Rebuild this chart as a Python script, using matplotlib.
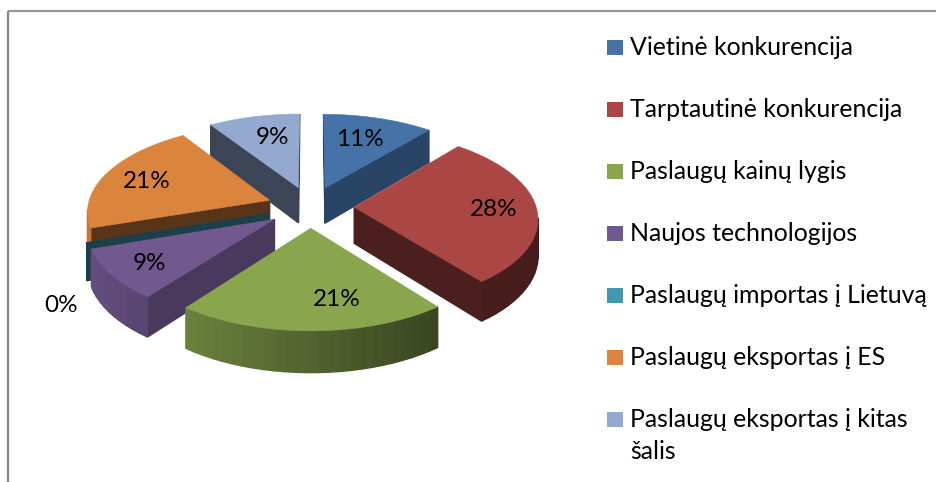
import matplotlib
matplotlib.use("Agg")
import matplotlib.pyplot as plt
import numpy as np

plt.rcParams["font.family"] = ["Lato", "DejaVu Sans"]

names = ["Vietinė konkurencija", "Tarptautinė konkurencija", "Paslaugų kainų lygis",
         "Naujos technologijos", "Paslaugų importas į Lietuvą", "Paslaugų eksportas į ES",
         "Paslaugų eksportas į kitas\nšalis"]
values = [11.1, 28.4, 21.0, 9.4, 0.1, 21.0, 9.2]

colors = ["#4572A7", "#AA4643", "#89A54E", "#71588F", "#4198AF", "#DB843D", "#93A9CF"]
cut_shade = [0.6, 0.44, 0.5, 0.65, 0.42, 0.4, 0.41]

# where the percent labels sit (pixels)
label_xy = [(360, 140), (494, 209), (337, 300), (150, 263), (61, 306), (147, 182), (273, 138)]
legend_y = [47, 109, 171, 233, 295, 357, 419]

# pie "camera"
cx, cy = 310.5, 207
rx, ry = 182, 86
persp = 0.112
explode = 0.24
depth = 36


def project(u, v, down=False):
    s = 1 / (1 + persp * v)
    x = cx + rx * u * s
    y = cy - ry * v * s
    if down:
        y = y + depth * s
    return x, y


def shade(c, f):
    return tuple(np.array(matplotlib.colors.to_rgb(c)) * f)


fig = plt.figure(figsize=(9.37, 4.82), dpi=100)
ax = fig.add_axes([0, 0, 1, 1])
ax.set_xlim(0, 937)
ax.set_ylim(482, 0)
ax.axis("off")

# frame, cut off at the bottom and right
ax.plot([8, 8], [482, 10.5], color="#868686", lw=1.6, solid_capstyle="butt")
ax.plot([8, 937], [10.5, 10.5], color="#969696", lw=1.6, solid_capstyle="butt")

frac = np.array(values) / sum(values) * 360
ends = np.cumsum(frac)
starts = ends - frac
mids = (starts + ends) / 2
order = np.argsort(-np.cos(np.radians(mids)))

for i in order:
    m = np.radians(mids[i])
    u0, v0 = explode * np.sin(m), explode * np.cos(m)
    t = np.radians(np.linspace(starts[i], ends[i], max(int(frac[i] / 3), 2) + 1))
    us = np.r_[u0, u0 + np.sin(t), u0]
    vs = np.r_[v0, v0 + np.cos(t), v0]
    tx, ty = project(us, vs)
    bx, by = project(us, vs, down=True)
    thin = values[i] < 0.5
    # only faces where x runs backwards (clockwise walk) look at the viewer
    for j in range(len(us) - 1):
        if tx[j + 1] >= tx[j]:
            continue
        if j == 0 or j == len(us) - 2 or thin:
            f = cut_shade[i]
        else:
            f = max(0.6 - 0.3 * np.sin((t[j - 1] + t[j]) / 2), 0.42)
        c = shade(colors[i], f)
        ax.fill([tx[j], tx[j + 1], bx[j + 1], bx[j]], [ty[j], ty[j + 1], by[j + 1], by[j]],
                color=c, lw=1.0)
    # the almost empty slice only shows as a dark sliver
    top = shade(colors[i], cut_shade[i]) if thin else colors[i]
    ax.fill(tx, ty, color=top, lw=0.4)

for i in range(len(values)):
    ax.text(label_xy[i][0], label_xy[i][1], f"{round(values[i])}%", fontsize=17.5,
            ha="center", va="center", color="black")

for i in range(len(names)):
    ax.add_patch(plt.Rectangle((607, legend_y[i] - 7.5), 16, 15, color=colors[i], lw=0))
    ax.text(630, legend_y[i] - 11, names[i], fontsize=17.9, ha="left", va="top",
            color="black", linespacing=1.45)

fig.savefig("out.png", dpi=100)
